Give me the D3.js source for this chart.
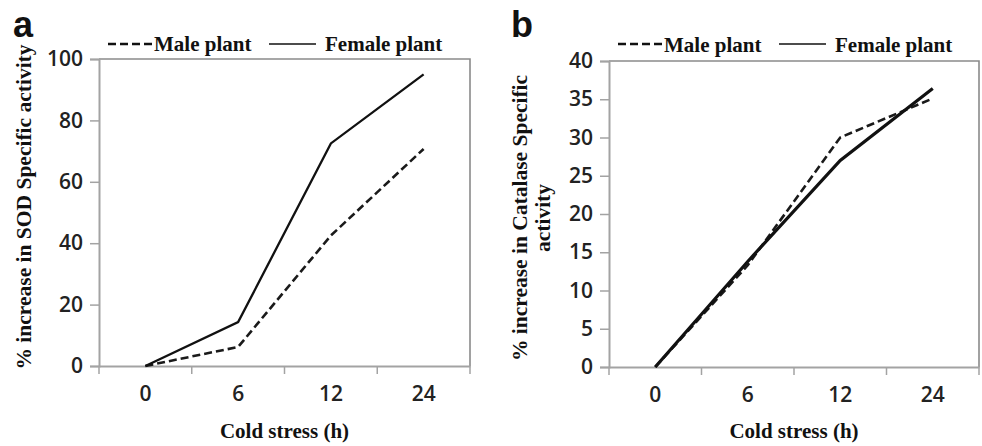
<!DOCTYPE html>
<html>
<head>
<meta charset="utf-8">
<script src="https://cdn.jsdelivr.net/npm/d3@7"></script>
<style>
  body { margin: 0; background: #fff; }
  svg { display: block; }
  .serif { font-family: "Liberation Serif", "Times New Roman", serif; font-weight: bold; fill: #111; }
  .tick-label { font-family: "Open Sans", "DejaVu Sans", sans-serif; font-weight: 600; fill: #222; }
</style>
</head>
<body>
<svg id="chart" width="982" height="446"></svg>
<script>
const hours = ["0", "6", "12", "24"];
const sodMale = [0, 6.2, 42.5, 70.7];
const sodFemale = [0, 14.3, 72.5, 95.0];
const catMale = [0, 13.3, 30.0, 35.1];
const catFemale = [0, 13.8, 27.0, 36.4];
const sodTicks = [0, 20, 40, 60, 80, 100];
const catTicks = [0, 5, 10, 15, 20, 25, 30, 35, 40];

const svg = d3.select("#chart");
const axisColor = "#a3a3a3";
const borderColor = "#8a8a8a";

function drawPanel(p) {
    const g = svg.append("g");
    const x = d3.scaleBand().domain(hours).range([p.left, p.right]).paddingInner(0).paddingOuter(0);
    const y = d3.scaleLinear().domain([0, p.max]).range([p.bottom, p.top]);

    // plot border (top and right)
    g.append("path")
        .attr("d", `M${p.left},${p.top}H${p.right}V${p.bottom}`)
        .attr("fill", "none")
        .attr("stroke", borderColor)
        .attr("stroke-width", 1.6);

    // y axis
    const yAxis = g.append("g")
        .attr("transform", `translate(${p.left},0)`)
        .call(d3.axisLeft(y).tickValues(p.ticks).tickSize(9).tickPadding(7));
    yAxis.select(".domain").attr("stroke", axisColor).attr("stroke-width", 2);
    yAxis.selectAll(".tick line").attr("stroke", axisColor).attr("stroke-width", 1.5);
    yAxis.selectAll(".tick text").attr("class", "tick-label").attr("font-size", 21);

    // x axis: labels in band centres, ticks on band edges
    const xAxis = g.append("g")
        .attr("transform", `translate(0,${p.bottom})`)
        .call(d3.axisBottom(x).tickSize(0).tickPadding(20));
    xAxis.select(".domain").attr("stroke", axisColor).attr("stroke-width", 2);
    xAxis.selectAll(".tick text").attr("class", "tick-label").attr("font-size", 21);
    const edges = hours.map(d => x(d)).concat([x.range()[1]]);
    xAxis.selectAll(".edge")
        .data(edges)
        .join("line")
        .attr("class", "edge")
        .attr("x1", d => d).attr("x2", d => d)
        .attr("y1", 0).attr("y2", 8)
        .attr("stroke", axisColor)
        .attr("stroke-width", 1.5);

    const line = d3.line()
        .x((d, i) => x(hours[i]) + x.bandwidth() / 2)
        .y(d => y(d));

    g.append("path")
        .datum(p.male)
        .attr("d", line)
        .attr("fill", "none")
        .attr("stroke", "#1a1a1a")
        .attr("stroke-width", 2.6)
        .attr("stroke-dasharray", "8,4");
    g.append("path")
        .datum(p.female)
        .attr("d", line)
        .attr("fill", "none")
        .attr("stroke", "#111")
        .attr("stroke-width", p.femaleWidth);

    // legend
    g.append("line")
        .attr("x1", p.legendX).attr("x2", p.legendX + 44)
        .attr("y1", 44).attr("y2", 44)
        .attr("stroke", "#111").attr("stroke-width", 2.4)
        .attr("stroke-dasharray", "8,4");
    g.append("text").attr("class", "serif")
        .attr("x", p.legendX + 46).attr("y", p.legendY)
        .attr("font-size", 21)
        .text("Male plant");
    g.append("line")
        .attr("x1", p.legendX + 161).attr("x2", p.legendX + 208)
        .attr("y1", 44).attr("y2", 44)
        .attr("stroke", "#111").attr("stroke-width", 1.6);
    g.append("text").attr("class", "serif")
        .attr("x", p.legendX + 217).attr("y", p.legendY)
        .attr("font-size", 21)
        .text("Female plant");

    // x title
    g.append("text").attr("class", "serif")
        .attr("x", (p.left + p.right) / 2).attr("y", 438)
        .attr("text-anchor", "middle")
        .attr("font-size", 21)
        .text("Cold stress (h)");

    // y title
    const yt = g.append("text").attr("class", "serif")
        .attr("transform", `translate(${p.titleX},${p.titleY}) rotate(-90)`)
        .attr("text-anchor", "middle")
        .attr("font-size", 21.5);
    p.yTitle.forEach((t, i) => {
        yt.append("tspan").attr("x", 0).attr("dy", i === 0 ? 0 : 23).text(t);
    });

    // panel letter
    g.append("text")
        .attr("x", p.letterX).attr("y", 37)
        .attr("font-family", "'Liberation Sans', Arial, sans-serif")
        .attr("font-weight", "bold")
        .attr("font-size", 36)
        .attr("fill", "#111")
        .text(p.letter);
}

drawPanel({
    letter: "a", letterX: 13,
    left: 99, right: 470, top: 59, bottom: 366, max: 100, ticks: sodTicks,
    male: sodMale, female: sodFemale, femaleWidth: 2.3,
    legendX: 108, legendY: 51,
    yTitle: ["% increase in SOD Specific activity"], titleX: 31, titleY: 207
});

drawPanel({
    letter: "b", letterX: 511,
    left: 609, right: 979, top: 61, bottom: 367, max: 40, ticks: catTicks,
    male: catMale, female: catFemale, femaleWidth: 3.2,
    legendX: 618, legendY: 52,
    yTitle: ["% increase in Catalase Specific", "activity"], titleX: 527, titleY: 218
});
</script>
</body>
</html>
